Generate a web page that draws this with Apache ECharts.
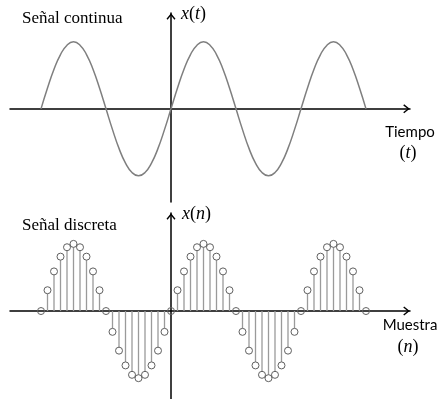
<!DOCTYPE html>
<html>
<head>
<meta charset="utf-8">
<script src="https://cdn.jsdelivr.net/npm/echarts@6/dist/echarts.min.js"></script>
<style>
  html, body { margin: 0; padding: 0; background: #fff; }
  #main { width: 440px; height: 399px; }
</style>
</head>
<body>
<div id="main"></div>
<script>
// indices de muestra n = -20 .. 30
var muestras = [-20, -19, -18, -17, -16, -15, -14, -13, -12, -11,
  -10, -9, -8, -7, -6, -5, -4, -3, -2, -1,
  0, 1, 2, 3, 4, 5, 6, 7, 8, 9,
  10, 11, 12, 13, 14, 15, 16, 17, 18, 19,
  20, 21, 22, 23, 24, 25, 26, 27, 28, 29, 30]
// amplitudes (20 muestras por periodo)
var valores = [0, 0.31, 0.59, 0.81, 0.95, 1, 0.95, 0.81, 0.59, 0.31,
  0, -0.31, -0.59, -0.81, -0.95, -1, -0.95, -0.81, -0.59, -0.31,
  0, 0.31, 0.59, 0.81, 0.95, 1, 0.95, 0.81, 0.59, 0.31,
  0, -0.31, -0.59, -0.81, -0.95, -1, -0.95, -0.81, -0.59, -0.31,
  0, 0.31, 0.59, 0.81, 0.95, 1, 0.95, 0.81, 0.59, 0.31, 0]

var titulos = ['Señal continua', 'Señal discreta']
var ejeX = ['Tiempo', 'Muestra']
var varX = ['t', 'n']

var puntos = muestras.map(function (n, i) { return [n, valores[i]] })

var chartObj = echarts.init(document.getElementById('main'), null, { renderer: 'canvas' })

// flecha abierta tipo chevron
var flecha = 'path://M5,0 L10,6.2 L8.8,7.2 L5,2.4 L1.2,7.2 L0,6.2 Z'

var serif = '"Liberation Serif"'
var italica = { fontStyle: 'italic', fontFamily: 'Liberation Serif', fontSize: 18 }

function ejeComun(extra) {
  return Object.assign({
    type: 'value',
    axisTick: { show: false },
    axisLabel: { show: false },
    splitLine: { show: false },
    axisLine: {
      show: true,
      onZero: true,
      symbol: ['none', flecha],
      symbolSize: [9, 7],
      symbolOffset: [0, -3.5],
      lineStyle: { color: '#000', width: 1.5 }
    }
  }, extra)
}

var option = {
  animation: false,
  backgroundColor: '#fff',
  grid: [
    { left: 10, right: 30, top: 13, height: 189 },
    { left: 10, right: 30, top: 213, height: 186 }
  ],
  xAxis: [
    ejeComun({ gridIndex: 0, min: -24.77, max: 36.77 }),
    ejeComun({ gridIndex: 1, min: -24.77, max: 36.77 })
  ],
  yAxis: [
    ejeComun({ gridIndex: 0, min: -1.39, max: 1.43 }),
    ejeComun({ gridIndex: 1, min: -1.31, max: 1.46 })
  ],
  graphic: [
    { type: 'text', left: 22, top: 10, style: { text: titulos[0], font: '17px ' + serif, fill: '#000' } },
    { type: 'text', left: 22, top: 217, style: { text: titulos[1], font: '17px ' + serif, fill: '#000' } },
    { type: 'text', left: 181, top: 5, style: { text: '{i|x}(' + '{i|' + varX[0] + '})', font: '18px ' + serif, fill: '#000', rich: { i: italica } } },
    { type: 'text', left: 182, top: 205, style: { text: '{i|x}(' + '{i|' + varX[1] + '})', font: '18px ' + serif, fill: '#000', rich: { i: italica } } },
    { type: 'text', x: 410, y: 132, style: { text: ejeX[0], font: '15px Lato', fill: '#000', align: 'center', verticalAlign: 'middle' } },
    { type: 'text', x: 408, y: 153, style: { text: '(' + '{i|' + varX[0] + '})', font: '18px ' + serif, fill: '#000', align: 'center', verticalAlign: 'middle', rich: { i: italica } } },
    { type: 'text', x: 410, y: 325, style: { text: ejeX[1], font: '15px Lato', fill: '#000', align: 'center', verticalAlign: 'middle' } },
    { type: 'text', x: 408, y: 347, style: { text: '(' + '{i|' + varX[1] + '})', font: '18px ' + serif, fill: '#000', align: 'center', verticalAlign: 'middle', rich: { i: italica } } }
  ],
  series: [
    {
      // senal continua
      type: 'line',
      xAxisIndex: 0,
      yAxisIndex: 0,
      data: puntos,
      smooth: 0.5,
      showSymbol: false,
      lineStyle: { color: '#7f7f7f', width: 1.5 },
      z: 3
    },
    {
      // senal discreta: tallos + circulos
      type: 'custom',
      xAxisIndex: 1,
      yAxisIndex: 1,
      data: puntos,
      z: 3,
      renderItem: function (params, api) {
        var n = api.value(0)
        var v = api.value(1)
        var c = api.coord([n, v])
        var b = api.coord([n, 0])
        var r = 3.5
        var hijos = []
        if (Math.abs(c[1] - b[1]) > r) {
          var s = c[1] < b[1] ? 1 : -1
          hijos.push({
            type: 'line',
            shape: { x1: c[0], y1: b[1], x2: c[0], y2: c[1] + s * r },
            style: { stroke: '#9a9a9a', lineWidth: 1.3 }
          })
        }
        hijos.push({
          type: 'circle',
          shape: { cx: c[0], cy: c[1], r: r },
          style: { stroke: '#606060', fill: 'none', lineWidth: 1 }
        })
        return { type: 'group', children: hijos }
      }
    }
  ]
}

chartObj.setOption(option)
</script>
</body>
</html>
